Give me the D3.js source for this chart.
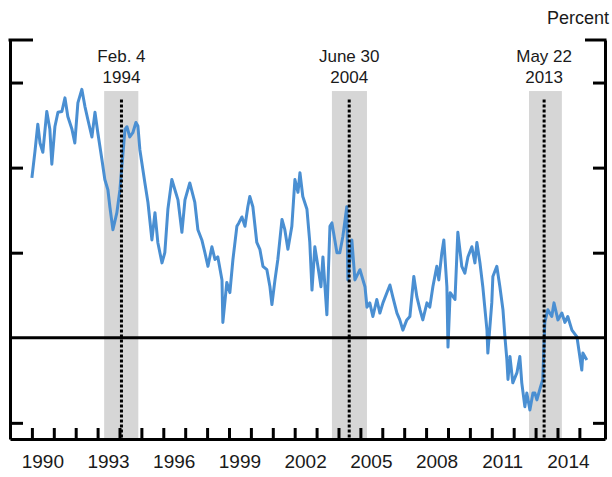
<!DOCTYPE html>
<html>
<head>
<meta charset="utf-8">
<script src="https://cdn.jsdelivr.net/npm/d3@7"></script>
<style>
  body { margin: 0; background: #fff; }
  svg { display: block; }
  text { font-family: "Liberation Sans", Arial, sans-serif; fill: #1a1a1a; }
</style>
</head>
<body>
<svg width="612" height="477"></svg>
<script>
// term premium series (decimal year, percent)
var years = [
  1990.00, 1990.14, 1990.27, 1990.37, 1990.50, 1990.68, 1990.82, 1990.91, 1991.05, 1991.19,
  1991.37, 1991.51, 1991.64, 1991.83, 1991.96, 1992.10, 1992.28, 1992.42, 1992.56, 1992.74,
  1992.88, 1993.01, 1993.20, 1993.33, 1993.47, 1993.56, 1993.70, 1993.88, 1994.02, 1994.25,
  1994.34, 1994.47, 1994.61, 1994.75, 1994.84, 1994.93, 1995.16, 1995.30, 1995.48, 1995.62,
  1995.75, 1995.94, 1996.07, 1996.21, 1996.39, 1996.53, 1996.67, 1996.85, 1996.99, 1997.21,
  1997.44, 1997.58, 1997.76, 1997.90, 1998.04, 1998.22, 1998.36, 1998.49, 1998.68, 1998.72,
  1998.90, 1999.04, 1999.18, 1999.36, 1999.45, 1999.59, 1999.73, 1999.86, 1999.95, 2000.09,
  2000.27, 2000.41, 2000.55, 2000.73, 2000.87, 2000.96, 2001.10, 2001.23, 2001.42, 2001.55,
  2001.69, 2001.87, 2002.01, 2002.15, 2002.24, 2002.37, 2002.56, 2002.69, 2002.79, 2002.92,
  2003.06, 2003.20, 2003.29, 2003.47, 2003.61, 2003.70, 2003.93, 2004.06, 2004.20, 2004.38,
  2004.43, 2004.61, 2004.75, 2004.98, 2005.21, 2005.30, 2005.43, 2005.57, 2005.75, 2005.89,
  2006.03, 2006.21, 2006.35, 2006.48, 2006.67, 2006.80, 2006.94, 2007.12, 2007.26, 2007.44,
  2007.58, 2007.72, 2007.85, 2008.04, 2008.17, 2008.31, 2008.49, 2008.58, 2008.72, 2008.81,
  2008.95, 2009.00, 2009.10, 2009.32, 2009.45, 2009.63, 2009.77, 2009.91, 2010.09, 2010.23,
  2010.32, 2010.46, 2010.59, 2010.78, 2010.82, 2011.00, 2011.05, 2011.23, 2011.37, 2011.51,
  2011.60, 2011.69, 2011.74, 2011.83, 2011.96, 2012.15, 2012.28, 2012.37, 2012.51, 2012.60,
  2012.74, 2012.88, 2012.97, 2013.06, 2013.20, 2013.33, 2013.42, 2013.56, 2013.74, 2013.84,
  2014.02, 2014.20, 2014.34, 2014.47, 2014.66, 2014.89, 2015.02, 2015.11, 2015.16, 2015.34
];
var values = [
  1.88, 2.19, 2.51, 2.29, 2.18, 2.66, 2.45, 2.04, 2.48, 2.65,
  2.66, 2.82, 2.60, 2.45, 2.29, 2.76, 2.92, 2.72, 2.56, 2.36,
  2.65, 2.41, 2.09, 1.86, 1.74, 1.54, 1.27, 1.47, 1.74, 2.45,
  2.48, 2.36, 2.41, 2.53, 2.49, 2.21, 1.82, 1.59, 1.15, 1.47,
  1.12, 0.88, 1.00, 1.51, 1.86, 1.74, 1.62, 1.24, 1.62, 1.82,
  1.59, 1.27, 1.15, 1.00, 0.84, 1.07, 0.92, 0.95, 0.68, 0.18,
  0.65, 0.53, 0.92, 1.31, 1.35, 1.42, 1.31, 1.54, 1.66, 1.54,
  1.12, 1.04, 0.84, 0.80, 0.60, 0.39, 0.68, 0.92, 1.39, 1.27,
  1.04, 1.31, 1.86, 1.71, 1.94, 1.66, 1.51, 1.12, 0.56, 1.07,
  0.84, 0.60, 0.95, 0.27, 1.31, 1.35, 1.00, 1.00, 1.19, 1.54,
  0.68, 1.15, 0.68, 0.80, 0.60, 0.36, 0.41, 0.25, 0.45, 0.29,
  0.41, 0.53, 0.62, 0.48, 0.29, 0.21, 0.09, 0.21, 0.25, 0.72,
  0.48, 0.33, 0.21, 0.41, 0.36, 0.60, 0.84, 0.68, 1.00, 1.15,
  0.60, -0.11, 0.53, 0.45, 1.24, 0.84, 0.76, 0.95, 1.07, 0.88,
  1.12, 0.88, 0.60, 0.09, -0.18, 0.41, 0.72, 0.84, 0.60, 0.33,
  0.01, -0.26, -0.49, -0.22, -0.53, -0.41, -0.22, -0.53, -0.81, -0.65,
  -0.85, -0.65, -0.65, -0.73, -0.60, -0.49, 0.18, 0.33, 0.25, 0.41,
  0.21, 0.29, 0.18, 0.25, 0.09, 0.01, -0.22, -0.38, -0.18, -0.26
];

// events marked with dotted lines and grey bands
var eventLabels = [["Feb. 4", "1994"], ["June 30", "2004"], ["May 22", "2013"]];
var eventDates = [1994.09, 2004.49, 2013.39];
var bandStart = [1993.30, 2003.70, 2012.70];
var bandEnd = [1994.86, 2005.30, 2014.20];

var yTicks = [-1, 1, 2, 3];
var xTicks = d3.range(1990, 2016);
var xLabels = [1990, 1993, 1996, 1999, 2002, 2005, 2008, 2011, 2014];

var svg = d3.select("svg");
var x = d3.scaleLinear().domain([1989, 2016.17]).range([10, 605]);
var y = d3.scaleLinear().domain([-1.19, 3.5]).range([439, 40]);

var data = years.map(function(d, i) { return [d, values[i]]; });

// bands
svg.selectAll(".band")
    .data(bandStart)
    .enter().append("rect")
    .attr("class", "band")
    .attr("x", function(d) { return x(d); })
    .attr("width", function(d, i) { return x(bandEnd[i]) - x(d); })
    .attr("y", y(2.9))
    .attr("height", function() { return y.range()[0] - y(2.9); })
    .attr("fill", "#d6d6d6");

var line = d3.line()
    .x(function(d) { return x(d[0]); })
    .y(function(d) { return y(d[1]); });

svg.append("path")
    .datum(data)
    .attr("d", line)
    .attr("fill", "none")
    .attr("stroke", "#4a8fd2")
    .attr("stroke-width", 3)
    .attr("stroke-linejoin", "round");

// zero line
svg.append("line")
    .attr("x1", x.range()[0]).attr("x2", x.range()[1])
    .attr("y1", y(0)).attr("y2", y(0))
    .attr("stroke", "#000").attr("stroke-width", 3);

// dotted event lines
svg.selectAll(".event")
    .data(eventDates)
    .enter().append("line")
    .attr("class", "event")
    .attr("x1", function(d) { return x(d); })
    .attr("x2", function(d) { return x(d); })
    .attr("y1", y(2.8))
    .attr("y2", y.range()[0])
    .attr("stroke", "#000")
    .attr("stroke-width", 3)
    .attr("stroke-dasharray", "3,2");

var lab = svg.selectAll(".elab")
    .data(eventDates)
    .enter().append("text")
    .attr("class", "elab")
    .attr("text-anchor", "middle")
    .style("font-size", "17px");
lab.append("tspan")
    .attr("x", function(d) { return x(d); })
    .attr("y", 62)
    .text(function(d, i) { return eventLabels[i][0]; });
lab.append("tspan")
    .attr("x", function(d) { return x(d); })
    .attr("y", 83)
    .text(function(d, i) { return eventLabels[i][1]; });

// axes
function thick(g) {
  g.selectAll("path, line").attr("stroke", "#000").attr("stroke-width", 3);
}

svg.append("g")
    .attr("transform", "translate(0," + y.range()[0] + ")")
    .call(d3.axisBottom(x).tickValues(xTicks).tickSize(-11).tickSizeOuter(0).tickFormat(""))
    .call(thick);

svg.append("g")
    .attr("transform", "translate(" + x.range()[0] + ",0)")
    .call(d3.axisLeft(y).tickValues(yTicks).tickSize(-13).tickSizeOuter(0).tickFormat(""))
    .call(thick);

svg.append("g")
    .attr("transform", "translate(" + x.range()[1] + ",0)")
    .call(d3.axisRight(y).tickValues(yTicks).tickSize(-12).tickSizeOuter(0).tickFormat(""))
    .call(thick);

// top caps
svg.append("line")
    .attr("x1", x.range()[0] - 1.5).attr("x2", x.range()[0] + 23)
    .attr("y1", y.range()[1]).attr("y2", y.range()[1])
    .attr("stroke", "#000").attr("stroke-width", 3);
svg.append("line")
    .attr("x1", x.range()[1] - 20).attr("x2", x.range()[1] + 1.5)
    .attr("y1", y.range()[1]).attr("y2", y.range()[1])
    .attr("stroke", "#000").attr("stroke-width", 3);

svg.selectAll(".xlab")
    .data(xLabels)
    .enter().append("text")
    .attr("class", "xlab")
    .attr("x", function(d) { return x(d + 0.5); })
    .attr("y", 468)
    .attr("text-anchor", "middle")
    .style("font-size", "19px")
    .text(function(d) { return d; });

svg.append("text")
    .attr("x", 609)
    .attr("y", 24)
    .attr("text-anchor", "end")
    .style("font-size", "18px")
    .text("Percent");
</script>
</body>
</html>
